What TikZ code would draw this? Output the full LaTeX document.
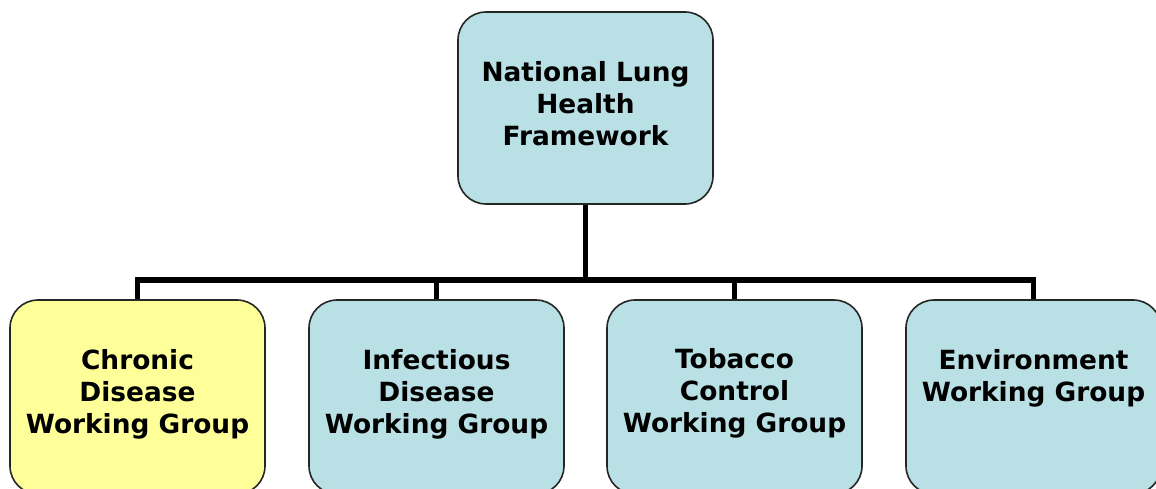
\documentclass[tikz,border=0pt]{standalone}
\usepackage{fontspec}
\setmainfont{DejaVu Sans}
\begin{document}
\begin{tikzpicture}[x=1pt,y=-1pt,
  box/.style={draw=black!85,line width=1.6pt,rounded corners=28pt,
    minimum width=255pt,inner sep=0pt},
  tealbox/.style={box,fill={rgb,255:red,185;green,224;blue,228}},
  yellowbox/.style={box,fill={rgb,255:red,255;green,255;blue,153}},
  txt/.style={align=center,font=\bfseries\fontsize{26.4}{32}\selectfont,inner sep=0pt},
  wire/.style={line width=5.5pt,black}]
\useasboundingbox[clip] (0,0) rectangle (1156,489);
\fill[white] (0,0) rectangle (1156,489);
% top node
\node[tealbox,minimum height=192pt] (top) at (585.5,108) {};
\node[txt,anchor=center] (toptxt) at (585.5,104) {National Lung\\Health\\Framework};
% working group boxes
\node[yellowbox,minimum height=194pt] (cd) at (137.5,397) {};
\node[tealbox,minimum height=194pt] (id) at (436.5,397) {};
\node[tealbox,minimum height=194pt] (tc) at (734.5,397) {};
\node[tealbox,minimum height=194pt] (en) at (1033.5,397) {};
\node[txt,anchor=north] (cdtxt) at ([yshift=-50pt]cd.north) {Chronic\\Disease\\Working Group};
\node[txt,anchor=north] (idtxt) at ([yshift=-50pt]id.north) {Infectious\\Disease\\Working Group};
\node[txt,anchor=north] (tctxt) at ([yshift=-49pt]tc.north) {Tobacco\\Control\\Working Group};
\node[txt,anchor=north] (entxt) at ([yshift=-50pt]en.north) {Environment\\Working Group};
% connectors
\coordinate (bus) at (585.5,280);
\draw[wire] (top.south) -- (bus);
\draw[wire,line cap=rect] (cd.north |- bus) -- (en.north |- bus);
\foreach \n in {cd,id,tc,en}{
  \draw[wire] (\n.north |- bus) -- (\n.north);
}
\end{tikzpicture}
\end{document}
